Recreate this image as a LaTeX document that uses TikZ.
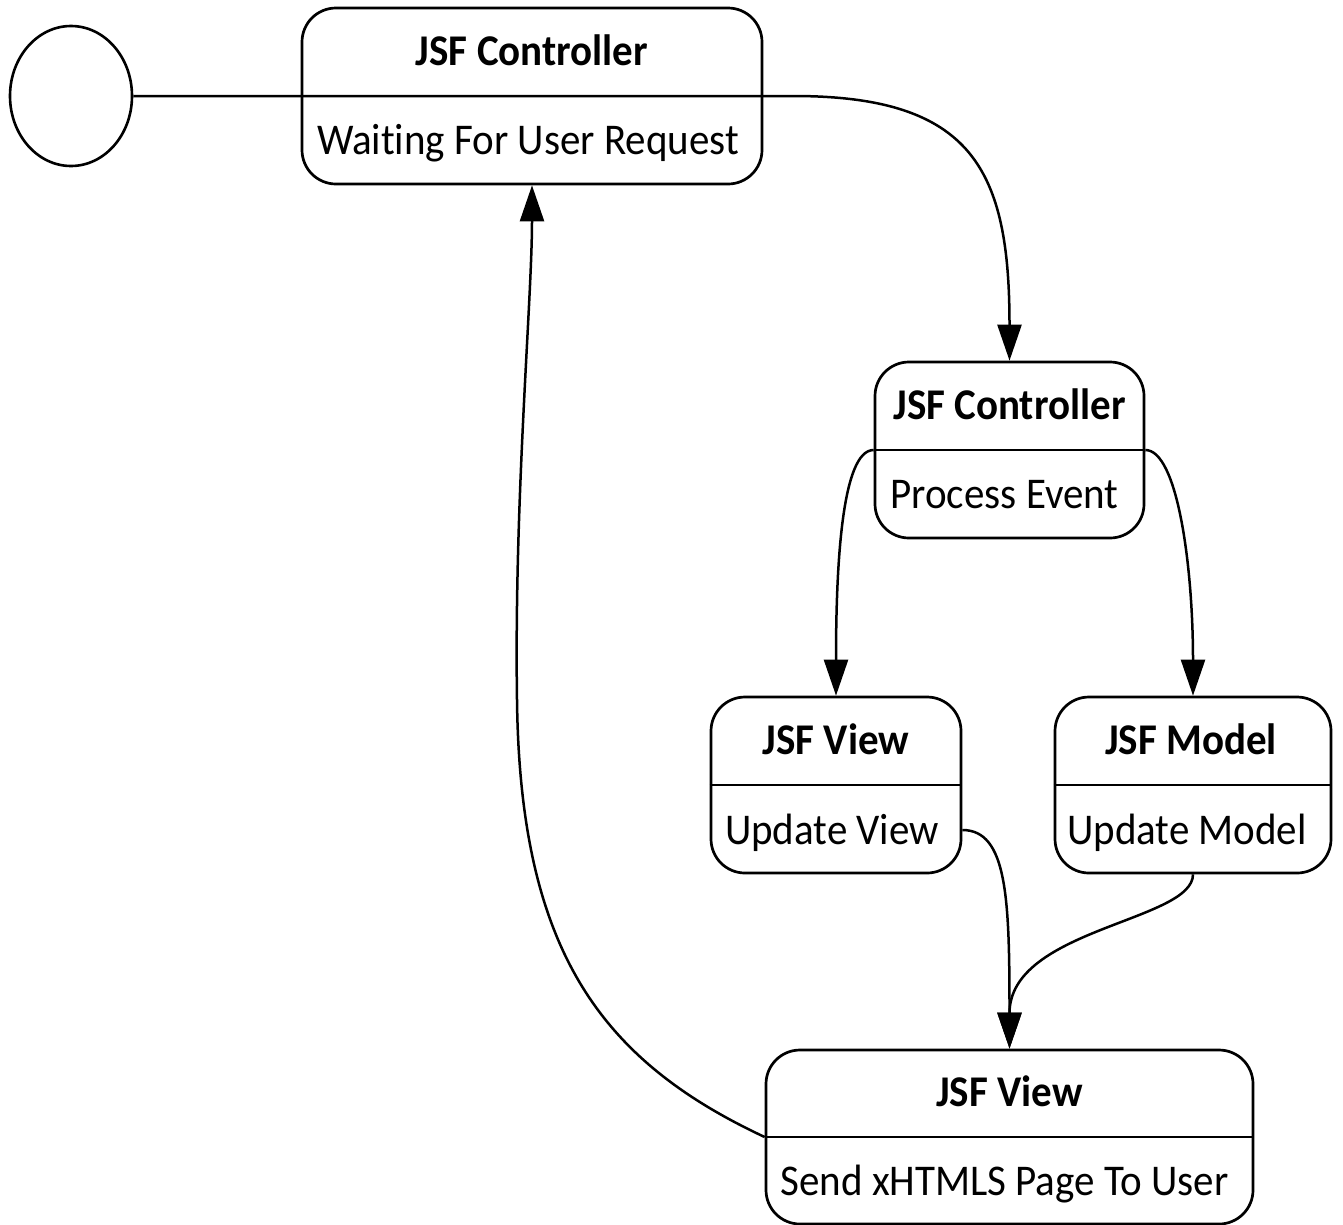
\documentclass[tikz,border=0pt]{standalone}
\usepackage{fontspec}
\setmainfont[Ligatures=NoCommon]{Carlito}
\usetikzlibrary{arrows.meta,calc,shapes.geometric}

% slightly tall lettering used inside the state boxes
\newcommand{\tallbox}[1]{\scalebox{1}[1.07]{#1}}

\tikzset{
  stateframe/.style={draw=black, line width=2.7pt, rounded corners=34pt,
    rectangle, inner sep=0pt, fill=white},
  title/.style={anchor=base, inner sep=0pt,
    font=\fontsize{41}{48}\selectfont\bfseries},
  body/.style={anchor=base, inner sep=0pt,
    font=\fontsize{41}{48}\selectfont},
  divider/.style={line width=2.5pt},
  conn/.style={line width=2.5pt, -{Triangle[length=36pt,width=24pt]}},
  initial/.style={draw=black, line width=2.6pt, ellipse, inner sep=0pt,
    minimum width=122pt, minimum height=140pt}
}

\begin{document}
\begin{tikzpicture}[x=1pt, y=-1pt]
  \useasboundingbox (0,0) rectangle (1343,1224);

  % initial pseudo-state
  \node[initial] (init) at (71,96) {};

  % state boxes
  \node[stateframe, minimum width=460pt, minimum height=176pt] (s1) at (532,96) {};
  \node[stateframe, minimum width=269pt, minimum height=176pt] (s2) at (1009.5,450) {};
  \node[stateframe, minimum width=250pt, minimum height=176pt] (s3) at (836,785) {};
  \node[stateframe, minimum width=276pt, minimum height=176pt] (s4) at (1193,785) {};
  \node[stateframe, minimum width=487pt, minimum height=174pt] (s5) at (1009.5,1137) {};

  % compartment dividers
  \foreach \s in {s1,s2,s3,s4,s5}
    \draw[divider] (\s.west) -- (\s.east);

  % titles and activities
  \node[title] (s1t) at ($(s1.center)+(0,-31)$) {\tallbox{JSF Controller}};
  \node[body]  (s1b) at ($(s1.center)+(-4,58)$) {\tallbox{Waiting For User Request}};
  \node[title] (s2t) at ($(s2.center)+(0,-31)$) {\tallbox{JSF Controller}};
  \node[body]  (s2b) at ($(s2.center)+(-5,58)$) {\tallbox{Process Event}};
  \node[title] (s3t) at ($(s3.center)+(0,-31)$) {\tallbox{JSF View}};
  \node[body]  (s3b) at ($(s3.center)+(-4,59)$) {\tallbox{Update View}};
  \node[title] (s4t) at ($(s4.center)+(-2,-31)$) {\tallbox{JSF Model}};
  \node[body]  (s4b) at ($(s4.center)+(-6,59)$) {\tallbox{Update Model}};
  \node[title] (s5t) at ($(s5.center)+(0,-31)$) {\tallbox{JSF View}};
  \node[body]  (s5b) at ($(s5.center)+(-5,58)$) {\tallbox{Send xHTMLS Page To User}};

  % connector anchor points
  \coordinate (s1go) at ($(s1.east)+(30,0)$);
  \coordinate (s3out) at ($(s3.east)+(0,45)$);

  % transitions
  \draw[conn] (init.east) -- (s1.east) -- (s1go)
    .. controls +(180,0) and +(0,-190) .. (s2.north);
  \draw[conn] (s2.west) .. controls +(-32,0) and +(0,-130) .. (s3.north);
  \draw[conn] (s2.east) .. controls +(32,0) and +(0,-130) .. (s4.north);
  \draw[conn] (s3out) .. controls +(45,0) and +(0,-150) .. (s5.north);
  \draw[conn] (s4.south) .. controls +(0,47) and +(0,-120) .. (s5.north);
  \draw[conn] (s5.west) .. controls (600,1060) and (520,950) .. (517,700)
    .. controls (514,500) and (532,300) .. (s1.south);
\end{tikzpicture}
\end{document}
